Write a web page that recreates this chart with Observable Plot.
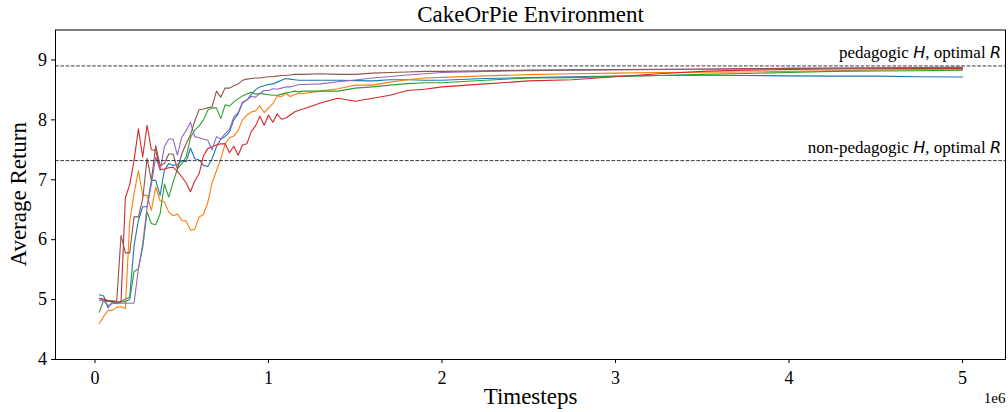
<!DOCTYPE html>
<html><head><meta charset="utf-8">
<script src="https://cdn.jsdelivr.net/npm/d3@7"></script>
<script src="https://cdn.jsdelivr.net/npm/@observablehq/plot@0.6"></script>
<style>body{margin:0;background:#fff} svg{display:block}</style>
</head><body><div id="chart"></div>
<script>
// Timesteps (thousands)
const timestepsK = [25,50,75,100,125,150,175,200,225,250,275,300,325,350,375,400,425,450,475,500,
  525,550,575,600,625,650,675,700,725,750,775,800,825,850,875,900,925,950,975,1000,
  1025,1050,1075,1100,1125,1150,1175,1200,1300,1400,1500,1600,1700,1800,1900,2000,
  2250,2500,2750,3000,3250,3500,3750,4000,4250,4500,4750,5000];

const blue = [5.08,5.06,4.86,4.96,4.93,4.97,5.01,5.04,5.9,6.32,
  6.55,6.55,6.99,6.99,6.74,7.16,7.27,7.24,7.25,7.32,
  7.3,7.53,7.35,7.33,7.24,7.22,7.35,7.55,7.68,7.72,
  7.8,8.0,8.1,8.28,8.33,8.42,8.5,8.55,8.57,8.59,
  8.6,8.63,8.66,8.69,8.68,8.67,8.66,8.66,
  8.66,8.66,8.655,8.65,8.67,8.67,8.66,8.66,
  8.69,8.705,8.72,8.73,8.74,8.745,8.74,8.735,8.73,8.73,8.72,8.715];
const orange = [4.60,4.72,4.82,4.82,4.87,4.88,4.85,6.3,6.77,7.15,
  6.74,6.74,6.49,6.88,6.65,6.63,6.46,6.40,6.43,6.32,
  6.31,6.16,6.17,6.38,6.42,6.62,6.95,7.15,7.35,7.6,
  7.7,7.73,7.82,8.0,8.08,8.13,8.15,8.24,8.12,8.2,
  8.27,8.4,8.39,8.44,8.39,8.42,8.45,8.44,
  8.48,8.52,8.58,8.58,8.63,8.67,8.70,8.71,
  8.735,8.755,8.77,8.78,8.79,8.795,8.80,8.81,8.82,8.83,8.84,8.845];
const green = [4.79,4.99,4.97,4.96,4.96,4.96,4.97,5.0,5.47,5.51,
  5.87,6.46,6.27,6.25,6.43,6.93,6.71,6.96,7.18,7.27,
  7.38,7.7,7.83,7.9,8.0,8.16,8.2,8.2,8.02,8.25,
  8.23,8.3,8.35,8.4,8.43,8.46,8.43,8.44,8.43,8.42,
  8.41,8.41,8.43,8.45,8.46,8.48,8.47,8.48,
  8.48,8.48,8.53,8.55,8.58,8.605,8.62,8.62,
  8.66,8.70,8.705,8.725,8.74,8.76,8.775,8.79,8.81,8.815,8.82,8.83];
const red = [5.02,4.99,4.98,4.97,4.96,4.96,6.7,6.92,7.32,7.85,
  7.38,7.91,7.5,7.49,7.17,7.18,7.2,7.21,7.14,7.05,
  6.95,6.8,6.98,7.1,7.4,7.52,7.55,7.58,7.6,7.6,
  7.45,7.56,7.41,7.58,7.6,7.8,7.9,8.06,7.91,8.08,
  7.96,8.1,8.01,8.03,8.08,8.13,8.16,8.18,
  8.28,8.36,8.31,8.36,8.41,8.49,8.51,8.55,
  8.6,8.65,8.67,8.72,8.77,8.81,8.83,8.84,8.85,8.855,8.86,8.86];
const purple = [4.98,4.98,4.9,4.93,4.94,4.94,4.94,4.94,4.94,5.51,
  5.93,6.54,6.93,7.38,7.16,7.55,7.68,7.68,7.41,7.71,
  7.82,7.96,7.72,7.7,7.68,7.66,7.5,7.72,7.68,7.77,
  7.84,8.05,8.12,8.3,8.33,8.39,8.38,8.44,8.49,8.49,
  8.52,8.51,8.53,8.55,8.55,8.57,8.59,8.59,
  8.6,8.635,8.665,8.7,8.725,8.75,8.77,8.79,
  8.81,8.82,8.83,8.835,8.84,8.845,8.85,8.86,8.865,8.87,8.875,8.88];
const brown = [5.02,5.01,4.99,4.98,4.97,6.07,5.78,5.78,6.38,6.38,
  6.68,7.36,6.99,7.57,7.24,7.27,7.43,7.43,7.18,7.43,
  7.6,7.75,7.98,8.17,8.18,8.2,8.22,8.48,8.38,8.53,
  8.53,8.57,8.6,8.66,8.68,8.69,8.7,8.7,8.71,8.72,
  8.72,8.73,8.74,8.74,8.75,8.76,8.76,8.76,
  8.77,8.76,8.76,8.78,8.79,8.80,8.81,8.81,
  8.82,8.83,8.835,8.84,8.845,8.85,8.855,8.86,8.862,8.865,8.868,8.87];

const seriesColors = ["#1f77b4","#ff7f0e","#2ca02c","#d62728","#9467bd","#8c564b"];
const seriesValues = [blue, orange, green, red, purple, brown];

const refValues = [8.9, 7.32];
const refLabels = ["pedagogic H, optimal R", "non-pedagogic H, optimal R"];
const xTicks = [0, 1e6, 2e6, 3e6, 4e6, 5e6];
const yTicks = [4, 5, 6, 7, 8, 9];

const serif = "'Liberation Serif', 'Times New Roman', serif";
const refRows = refValues.map((v, i) => ({value: v, label: refLabels[i]}));

const lineMarks = seriesValues.map((vals, k) =>
  Plot.line(timestepsK.map((t, i) => ({t: t * 1000, v: vals[i]})),
    {x: "t", y: "v", stroke: seriesColors[k], strokeWidth: 1.1}));

const chart = Plot.plot({
  width: 1008, height: 412,
  marginLeft: 55, marginRight: 3, marginTop: 29.5, marginBottom: 53,
  x: {domain: [-227700, 5247800]},
  y: {domain: [4, 9.5]},
  style: {fontFamily: serif, background: "white", color: "black"},
  marks: [
    ...lineMarks,
    Plot.ruleY(refRows, {y: "value", stroke: "#222", strokeWidth: 0.9, strokeDasharray: "3.7,1.6"}),
    Plot.text(refRows, {y: "value", text: "label", frameAnchor: "right", dx: -4.5, dy: -7.5,
      textAnchor: "end", lineAnchor: "bottom", fontSize: 17, fontFamily: serif, fill: "black"}),
    Plot.frame({stroke: "black", strokeWidth: 1}),
    Plot.axisX({ticks: xTicks, tickFormat: d => String(d / 1e6), tickSize: 4, tickPadding: 8,
      fontSize: 18, fontFamily: serif, label: null, stroke: "black"}),
    Plot.axisY({ticks: yTicks, tickFormat: d => String(d), tickSize: 4, tickPadding: 4.5, fontSize: 18, fontFamily: serif, label: null, stroke: "black"}),
    Plot.text(["CakeOrPie Environment"], {frameAnchor: "top", dy: -8.5, lineAnchor: "bottom", fontSize: 23, fontFamily: serif, fill: "black"}),
    Plot.text(["Timesteps"], {frameAnchor: "bottom", dy: 44, lineAnchor: "bottom", fontSize: 23, fontFamily: serif, fill: "black"}),
    Plot.text(["1e6"], {frameAnchor: "bottom-right", dy: 43, textAnchor: "end", lineAnchor: "bottom", fontSize: 15, fontFamily: serif, fill: "black"})
  ]
});

const svg = d3.select(chart);
// rotated y-axis title
svg.append("text")
  .attr("transform", "translate(26,194.25) rotate(-90)")
  .attr("text-anchor", "middle")
  .attr("font-family", serif)
  .attr("font-size", 23)
  .attr("fill", "black")
  .text("Average Return");

// italic math-style H and R in the reference labels
chart.querySelectorAll("text").forEach(t => {
  const m = t.textContent.match(/^(.*) H, optimal R$/);
  if (m && t.children.length === 0) {
    t.textContent = "";
    const s = d3.select(t);
    s.append("tspan").text(m[1] + " ");
    s.append("tspan").attr("font-family", "'DejaVu Sans', sans-serif").attr("font-style", "italic").attr("font-size", 16).text("H");
    s.append("tspan").text(", optimal ");
    s.append("tspan").attr("font-family", "'DejaVu Sans', sans-serif").attr("font-style", "italic").attr("font-size", 16).text("R");
  }
});

document.getElementById("chart").appendChild(chart);
</script>
</body></html>
